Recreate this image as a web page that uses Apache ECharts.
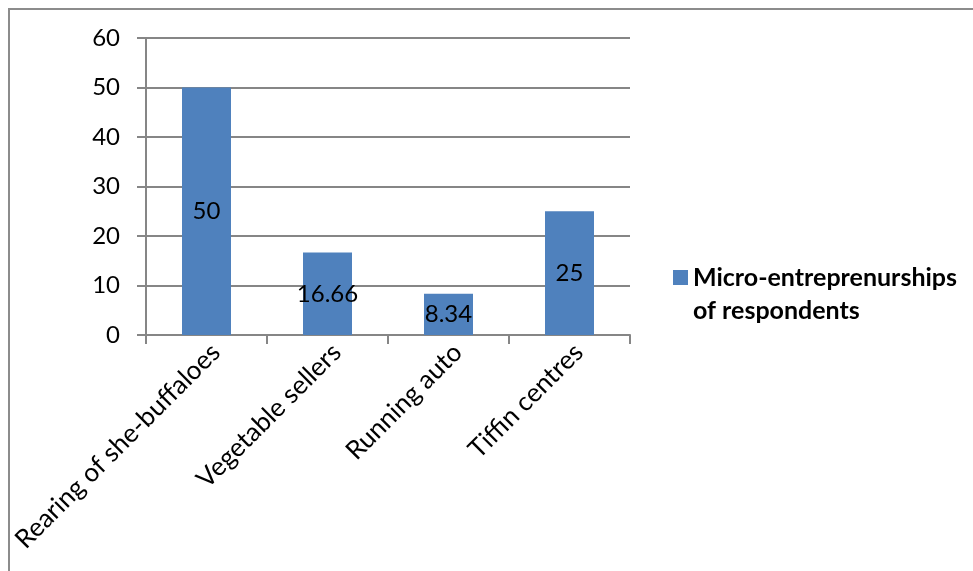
<!DOCTYPE html>
<html>
<head>
    <meta charset="utf-8">
    <title>Micro-entreprenurships</title>
    <style type="text/css">
        html, body { margin: 0; padding: 0; background: #fff; }
        #frame {
            position: absolute; left: 8px; top: 8px;
            width: 965px; height: 563px;
            border-top: 2px solid #8c8c8c;
            border-left: 2px solid #8c8c8c;
        }
        #main { position: absolute; left: 0; top: 0; width: 973px; height: 571px; }
    </style>
    <script src="https://cdn.jsdelivr.net/npm/echarts@6/dist/echarts.min.js"></script>
</head>
<body>
    <div id="frame"></div>
    <div id="main"></div>
    <script type="text/javascript">
// data
var categories = ['Rearing of she-buffaloes', 'Vegetable sellers', 'Running auto', 'Tiffin centres'];
var values = [50, 16.66, 8.34, 25];
var seriesName = 'Micro-entreprenurships of respondents';
var legendLines = ['Micro-entreprenurships', 'of respondents'];

var myChart = echarts.init(document.getElementById('main'));

var font = 'Lato, "Open Sans", sans-serif';

var option = {
    animation: false,
    grid: {
        left: 146,
        right: 343,
        top: 38,
        bottom: 236
    },
    legend: {
        orient: 'vertical',
        left: 668,
        top: 227,
        icon: 'rect',
        itemWidth: 15,
        itemHeight: 15,
        itemGap: 0,
        selectedMode: false,
        // empty first line so the marker sits beside the first text line
        formatter: function () {
            return '{e| }\n{t|' + legendLines[0] + '}\n{t|' + legendLines[1] + '}';
        },
        textStyle: {
            fontFamily: font,
            fontSize: 25,
            fontWeight: 'bold',
            color: '#000',
            rich: {
                e: { lineHeight: 33, fontSize: 25 },
                t: { lineHeight: 33, fontSize: 25, fontWeight: 'bold', fontFamily: font, color: '#000' }
            }
        },
        data: [seriesName]
    },
    xAxis: {
        type: 'category',
        data: categories,
        axisLine: { lineStyle: { color: '#868686', width: 2 } },
        axisTick: { show: true, length: 9, lineStyle: { color: '#868686', width: 2 } },
        axisLabel: {
            rotate: 45,
            margin: 4,
            verticalAlign: 'top',
            fontFamily: font,
            fontSize: 26,
            color: '#000',
            interval: 0
        }
    },
    yAxis: {
        type: 'value',
        min: 0,
        max: 60,
        interval: 10,
        axisLine: { show: true, lineStyle: { color: '#868686', width: 2 } },
        axisTick: { show: true, length: 9, lineStyle: { color: '#868686', width: 2 } },
        axisLabel: {
            margin: 26,
            fontFamily: font,
            fontSize: 24,
            color: '#000'
        },
        splitLine: { lineStyle: { color: '#868686', width: 2 } }
    },
    series: [{
        name: seriesName,
        type: 'bar',
        data: values,
        barWidth: 49,
        itemStyle: { color: '#4F81BD' },
        label: {
            show: true,
            position: 'inside',
            fontFamily: font,
            fontSize: 24,
            color: '#000'
        }
    }]
};

myChart.setOption(option);
    </script>
</body>
</html>
